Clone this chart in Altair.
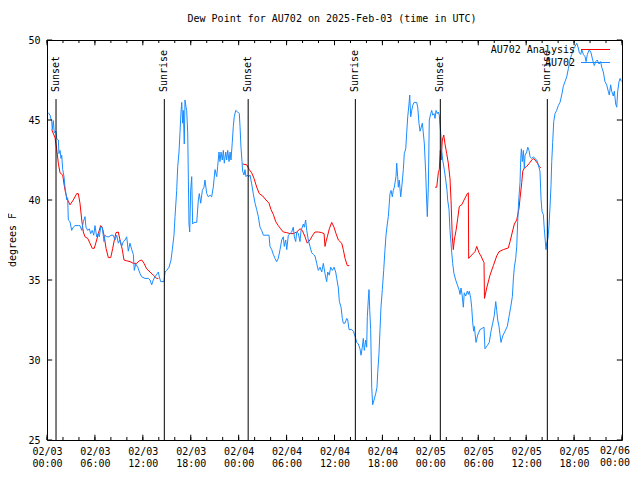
import altair as alt
import pandas as pd

FONT = "DejaVu Sans Mono"
BLUE = "#1a8cff"
RED = "#ff0000"

# hours since 2025-02-03 00:00 UTC, dew point (deg F)
blue_h = [0.16, 0.38, 0.59, 0.66, 0.79, 0.91, 1.13, 1.21, 1.42, 1.50, 1.63, 1.75, 1.84, 1.97, 2.13, 2.25, 2.38, 2.47, 2.59, 2.67,
          2.88, 3.09, 3.29, 3.51, 3.92, 4.13, 4.35, 4.55, 4.76, 4.88, 5.10, 5.30, 5.47, 5.67, 5.85, 6.01, 6.22, 6.42, 6.55, 6.72,
          6.92, 7.14, 7.26, 7.48, 7.76, 8.01, 8.30, 8.51, 8.73, 8.93, 9.14, 9.35, 9.55, 9.77, 9.98, 10.18, 10.39, 10.61, 10.81, 10.93,
          11.11, 11.36, 11.65, 11.86, 12.27, 12.68, 12.90, 13.11, 13.31, 13.52, 13.81, 13.94, 14.06, 14.24, 14.65, 14.78, 14.99, 15.28, 15.53, 15.69,
          15.90, 16.03, 16.24, 16.37, 16.53, 16.65, 16.78, 16.87, 16.99, 17.07, 17.19, 17.28, 17.41, 17.49, 17.62, 17.78, 17.87, 17.99, 18.12, 18.24,
          18.41, 18.75, 18.95, 19.07, 19.25, 19.45, 19.66, 19.78, 20.00, 20.20, 20.41, 20.62, 20.82, 21.04, 21.25, 21.37, 21.54, 21.66, 21.79, 21.95,
          22.08, 22.20, 22.38, 22.50, 22.63, 22.79, 22.92, 23.04, 23.20, 23.33, 23.45, 23.63, 23.88, 24.08, 24.17, 24.29, 24.42, 24.50, 24.67, 24.79,
          24.92, 25.08, 25.26, 25.42, 25.63, 25.83, 26.05, 26.26, 26.46, 26.67, 26.88, 27.09, 27.80, 27.92, 28.14, 28.34, 28.55, 28.76, 28.96, 29.18,
          29.39, 29.59, 29.71, 29.89, 30.02, 30.22, 30.43, 30.64, 30.84, 30.97, 31.14, 31.27, 31.47, 31.68, 31.81, 31.97, 32.10, 32.22, 32.39, 32.52,
          32.72, 32.93, 33.15, 33.35, 33.56, 33.77, 33.97, 34.19, 34.40, 34.60, 34.81, 35.02, 35.15, 35.35, 35.52, 35.73, 35.94, 36.15, 36.28, 36.48,
          36.61, 36.82, 36.98, 37.10, 37.32, 37.53, 37.66, 37.82, 38.16, 38.35, 38.57, 38.78, 38.98, 39.19, 39.32, 39.48, 39.61, 39.73, 39.91, 40.03,
          40.11, 40.23, 40.32, 40.41, 40.53, 40.66, 40.78, 40.95, 41.16, 41.32, 41.41, 41.57, 41.70, 41.82, 41.99, 42.16, 42.32, 42.45, 42.61, 42.74,
          42.86, 42.95, 43.08, 43.24, 43.36, 43.49, 43.70, 43.79, 43.91, 43.99, 44.11, 44.29, 44.42, 44.62, 44.74, 44.92, 45.04, 45.17, 45.33, 45.42,
          45.54, 45.67, 45.79, 45.96, 46.29, 46.42, 46.58, 46.71, 46.83, 47.00, 47.12, 47.25, 47.42, 47.55, 47.62, 47.75, 47.87, 48.05, 48.17, 48.30,
          48.46, 48.59, 48.71, 48.87, 49.00, 49.12, 49.21, 49.34, 49.42, 49.55, 49.75, 49.93, 50.09, 50.17, 50.34, 50.46, 50.59, 50.68, 50.80, 50.96,
          51.18, 51.38, 51.59, 51.72, 51.84, 52.00, 52.13, 52.25, 52.43, 52.63, 52.76, 52.88, 53.06, 53.18, 53.31, 53.43, 53.51, 53.72, 53.93, 54.22,
          54.56, 54.72, 54.84, 55.13, 55.38, 55.60, 55.81, 56.01, 56.19, 56.31, 56.44, 56.60, 56.72, 56.85, 57.06, 57.35, 57.64, 57.85, 58.06, 58.27,
          58.39, 58.52, 58.69, 58.82, 58.94, 59.07, 59.23, 59.32, 59.40, 59.52, 59.65, 59.77, 59.86, 60.07, 60.20, 60.36, 60.48, 60.70, 60.90, 61.11,
          61.32, 61.52, 61.73, 61.86, 61.98, 62.15, 62.27, 62.40, 62.48, 62.57, 62.73, 62.86, 62.98, 63.11, 63.20, 63.32, 63.45, 63.61, 63.82, 64.02,
          64.24, 64.45, 64.65, 64.86, 65.08, 65.28, 65.49, 65.70, 65.90, 66.12, 66.33, 66.53, 66.66, 66.83, 66.96, 67.16, 67.37, 67.50, 67.66, 67.91,
          68.12, 68.33, 68.53, 68.71, 68.91, 69.12, 69.33, 69.46, 69.66, 69.87, 70.08, 70.28, 70.41, 70.58, 70.71, 70.91, 71.04, 71.21, 71.34, 71.46,
          71.63, 71.76, 71.92]
blue_v = [45.46, 45.3, 44.9, 44.4, 44.96, 44.2, 44.3, 43.85, 43.75, 42.9, 43.1, 42.6, 42.8, 41.9, 41.46, 40.8, 40.4, 40.0, 40.1, 38.75,
          38.65, 38.1, 38.3, 38.4, 38.4, 38.4, 38.1, 38.65, 38.96, 38.3, 38.1, 38.2, 37.9, 38.1, 37.8, 38.4, 37.7, 37.9, 37.7, 38.3,
          38.3, 37.4, 37.8, 37.7, 37.7, 37.8, 37.8, 37.5, 37.8, 37.3, 37.5, 37.1, 37.4, 37.5, 37.7, 36.8, 37.3, 36.9, 36.6, 35.6,
          36.0, 35.8, 35.4, 35.2, 35.1, 35.1, 35.0, 34.7, 35.0, 35.2, 35.4, 35.5, 35.2, 34.9, 34.9, 35.5, 35.6, 35.8, 36.25, 36.9,
          37.8, 38.96, 40.6, 42.1, 43.0, 44.2, 45.5, 46.1, 44.8, 45.6, 43.5, 46.25, 45.8, 45.6, 44.2, 38.5, 38.0, 40.6, 41.46, 38.5,
          38.6, 38.6, 40.0, 40.4, 39.8, 40.6, 40.8, 41.25, 40.4, 40.2, 40.3, 40.2, 40.8, 41.9, 41.46, 42.1, 43.0, 42.4, 43.0, 42.5,
          43.1, 42.3, 43.0, 42.5, 43.1, 42.4, 43.0, 42.5, 43.6, 44.6, 45.2, 45.6, 45.5, 45.4, 44.6, 43.3, 42.4, 41.8, 41.56, 41.9,
          41.46, 41.56, 41.46, 41.56, 41.0, 40.4, 39.8, 39.4, 38.96, 38.3, 38.1, 37.8, 37.8, 37.1, 36.9, 36.6, 36.35, 36.15, 36.35, 36.9,
          37.5, 37.7, 37.1, 37.5, 36.9, 37.8, 37.9, 38.0, 38.3, 37.7, 37.4, 38.0, 37.9, 37.4, 38.1, 38.3, 38.5, 38.3, 38.75, 38.1,
          37.5, 37.1, 36.7, 36.6, 36.5, 36.04, 35.6, 35.8, 35.5, 36.04, 35.4, 34.9, 35.5, 35.3, 35.8, 35.6, 35.8, 35.5, 35.1, 34.5,
          33.65, 33.3, 32.6, 32.3, 32.3, 32.6, 32.5, 31.9, 31.9, 31.8, 31.5, 31.1, 31.0, 30.7, 30.3, 30.8, 31.35, 30.6, 31.25, 30.8,
          32.7, 33.75, 34.4, 33.1, 31.9, 28.3, 27.2, 27.5, 27.9, 28.3, 29.2, 30.4, 31.9, 33.3, 34.4, 35.6, 36.9, 37.8, 38.5, 38.96,
          39.8, 40.4, 40.6, 40.2, 40.6, 40.8, 41.46, 42.3, 41.46, 40.8, 41.25, 40.2, 40.8, 41.9, 42.9, 43.2, 44.2, 45.2, 46.0, 46.56,
          45.2, 45.6, 45.9, 46.1, 46.1, 45.8, 44.8, 44.3, 44.5, 44.8, 44.2, 43.5, 41.7, 39.8, 38.96, 40.8, 45.0, 45.4, 45.6, 45.3,
          45.4, 45.1, 45.6, 45.4, 45.5, 45.3, 44.7, 43.96, 43.1, 42.5, 41.9, 41.25, 40.6, 40.0, 39.4, 38.1, 37.3, 36.7, 36.04, 35.4,
          35.0, 34.7, 34.4, 34.1, 34.5, 34.0, 33.3, 34.2, 34.0, 34.3, 34.1, 34.3, 33.85, 33.3, 32.3, 31.8, 32.1, 31.1, 31.56, 31.9,
          32.0, 32.05, 30.7, 30.9, 31.1, 31.8, 32.3, 32.8, 33.65, 33.1, 32.5, 32.1, 31.6, 31.1, 31.5, 31.8, 32.1, 32.7, 33.3, 33.96,
          35.0, 35.8, 36.35, 37.1, 38.65, 40.0, 41.1, 42.6, 43.2, 42.4, 43.1, 42.0, 42.8, 43.0, 43.3, 43.1, 42.7, 42.6, 42.7, 42.6,
          42.5, 42.2, 41.8, 40.1, 39.3, 39.1, 38.2, 37.4, 36.9, 37.3, 37.6, 38.4, 39.5, 40.9, 42.4, 43.6, 44.9, 45.4, 45.6, 45.9,
          46.1, 46.56, 47.1, 47.4, 47.7, 48.2, 48.75, 49.1, 49.4, 49.6, 49.8, 49.5, 49.2, 49.1, 49.4, 49.1, 48.96, 48.65, 49.1, 49.4,
          49.2, 48.75, 48.4, 48.65, 48.75, 48.5, 48.65, 48.3, 48.0, 47.4, 47.2, 46.8, 46.56, 47.2, 46.8, 46.5, 46.8, 46.0, 45.8, 46.8,
          47.4, 47.6, 47.4]

red1_h = [0.59, 1.00, 1.21, 1.42, 1.63, 1.97, 2.13, 2.34, 2.59, 2.88, 3.29, 3.72, 3.92, 4.13, 4.35, 4.55, 4.76, 5.10, 5.38, 5.67,
          5.92, 6.22, 6.42, 6.72, 6.92, 7.18, 7.39, 7.68, 7.98, 8.23, 8.43, 8.64, 8.93, 9.14, 9.43, 9.64, 9.98, 10.39, 10.81, 11.23,
          11.56, 11.86, 12.15, 12.48, 12.90, 13.31, 13.74, 13.94]
red1_v = [44.4, 43.9, 43.2, 42.3, 41.7, 41.56, 41.0, 40.4, 40.0, 39.7, 40.0, 40.4, 40.4, 39.8, 38.75, 38.0, 37.7, 37.6, 37.3, 36.98,
          36.98, 37.5, 37.9, 38.4, 38.3, 37.7, 36.98, 36.4, 36.4, 36.98, 37.5, 37.96, 38.0, 37.5, 36.9, 36.25, 36.2, 36.15, 36.04, 36.04,
          36.2, 36.25, 36.04, 35.7, 35.5, 35.3, 35.1, 35.1]
red2_h = [24.50, 25.01, 25.33, 25.63, 25.92, 26.26, 26.58, 27.01, 27.42, 27.80, 28.05, 28.34, 28.64, 28.96, 29.26, 29.59, 30.02, 30.43, 30.84, 31.27,
          31.68, 31.97, 32.31, 32.59, 32.93, 33.27, 33.56, 33.97, 34.40, 34.69, 34.81, 34.94, 35.10, 35.35, 35.65, 35.94, 36.19, 36.48, 36.90, 37.10,
          37.32, 37.60, 37.85]
red2_v = [42.25, 42.2, 41.9, 41.7, 41.35, 40.8, 40.4, 40.25, 40.0, 39.8, 39.4, 39.1, 38.65, 38.4, 38.2, 38.0, 37.96, 37.9, 37.9, 38.0,
          38.2, 38.1, 37.7, 37.3, 37.5, 37.8, 38.0, 38.0, 37.96, 37.9, 37.1, 37.4, 37.7, 38.2, 38.6, 38.3, 37.9, 37.5, 37.3, 36.9,
          36.35, 35.9, 35.9]
red3_h = [48.59, 48.80, 49.00, 49.12, 49.25, 49.34, 49.50, 49.68, 49.84, 50.05, 50.25, 50.46, 50.59, 50.75, 50.88, 51.00, 51.22, 51.43, 51.63, 51.93,
          52.22, 52.43, 52.63, 52.76, 52.80, 53.18, 53.59, 53.81, 54.10, 54.35, 54.56, 54.72, 54.78, 55.06, 55.47, 55.89, 56.31, 56.60, 57.14, 57.76,
          57.98, 58.27, 58.52, 58.82, 59.11, 59.23, 59.45, 59.57, 59.77, 60.07, 60.40, 60.70, 60.90, 61.11, 61.41, 61.65, 61.83]
red3_v = [40.8, 40.8, 41.7, 41.9, 43.1, 42.5, 43.75, 44.06, 43.5, 42.9, 42.3, 41.35, 40.0, 37.7, 36.9, 37.5, 38.1, 38.85, 39.6, 39.7,
          40.0, 40.2, 40.4, 40.45, 36.35, 36.56, 36.77, 37.1, 36.7, 36.5, 36.25, 36.1, 33.85, 34.5, 35.3, 35.9, 36.5, 36.77, 36.9, 37.0,
          37.4, 38.0, 38.5, 38.75, 39.5, 40.1, 41.1, 41.8, 42.0, 42.1, 42.3, 42.5, 42.6, 42.5, 42.3, 42.1, 42.0]

sun_h = [1.13, 14.69, 25.19, 38.61, 49.25, 62.65]
sun_label = ["Sunset", "Sunrise", "Sunset", "Sunrise", "Sunset", "Sunrise"]

x_ticks = list(range(0, 73, 6))
x_minor = list(range(0, 73, 2))
y_ticks = [25, 30, 35, 40, 45, 50]
last_label = "02/06\n00:00"

title_text = "Dew Point for AU702 on 2025-Feb-03 (time in UTC)"
legend_labels = ["AU702 Analysis", "AU702"]

xs = alt.Scale(domain=[0, 72], nice=False, zero=False)
ys = alt.Scale(domain=[25, 50], nice=False, zero=False)

blue_df = pd.DataFrame({"h": blue_h, "v": blue_v})
red_df = pd.concat([
    pd.DataFrame({"h": red1_h, "v": red1_v, "seg": 1}),
    pd.DataFrame({"h": red2_h, "v": red2_v, "seg": 2}),
    pd.DataFrame({"h": red3_h, "v": red3_v, "seg": 3}),
])
sun_df = pd.DataFrame({"h": sun_h, "label": sun_label})

label_expr = ("['02/0' + (3 + floor(datum.value / 24)), "
              "((datum.value % 24) < 10 ? '0' : '') + (datum.value % 24) + ':00']")

X_AXIS = alt.Axis(values=x_ticks[:-1], labelExpr=label_expr, ticks=False, domain=False, grid=False,
                  labelFont=FONT, labelFontSize=10, labelColor="black", labelPadding=6,
                  labelLineHeight=12, labelFlush=False, labelOverlap=False, labelBaseline="top",
                  title=None)
Y_AXIS = alt.Axis(values=y_ticks, ticks=False, domain=False, grid=False, labelFont=FONT,
                  labelFontSize=10, labelColor="black", labelPadding=7, title=None)


def X(field=None, datum=None):
    if datum is not None:
        return alt.X(datum=datum, scale=xs, axis=X_AXIS)
    return alt.X(field, type="quantitative", scale=xs, axis=X_AXIS)


def Y(field=None, datum=None):
    if datum is not None:
        return alt.Y(datum=datum, scale=ys, axis=Y_AXIS)
    return alt.Y(field, type="quantitative", scale=ys, axis=Y_AXIS)


red = alt.Chart(red_df).mark_line(color=RED, strokeWidth=1).encode(
    x=X("h"), y=Y("v"), detail="seg:N")
blue = alt.Chart(blue_df).mark_line(color=BLUE, strokeWidth=1).encode(
    x=X("h"), y=Y("v"))

sun_lines = alt.Chart(sun_df).mark_rule(color="black", strokeWidth=1).encode(
    x=X("h"), y=Y(datum=46.31), y2=alt.Y2(datum=25))
sun_text = alt.Chart(sun_df).mark_text(angle=270, align="left", baseline="middle", font=FONT,
                                       fontSize=10, color="black").encode(
    x=X("h"), y=Y(datum=46.75), text="label:N")

# last x label, kept inside the page
end_label = alt.Chart(pd.DataFrame({"h": [x_ticks[-1]], "t": [last_label]})).mark_text(
    font=FONT, fontSize=10, color="black", align="right", baseline="top", lineBreak="\n",
    lineHeight=12, dx=8).encode(
    x=X("h"), y=alt.value(406), text="t:N")

# inward ticks
xt_major = pd.DataFrame({"h": x_ticks})
xt_minor = pd.DataFrame({"h": x_minor})
yt = pd.DataFrame({"v": y_ticks})


def xtick(df, y0, y1):
    return alt.Chart(df).mark_rule(color="black", strokeWidth=1).encode(
        x=X("h"), y=Y(datum=y0), y2=alt.Y2(datum=y1))


def ytick(x0, x1):
    return alt.Chart(yt).mark_rule(color="black", strokeWidth=1).encode(
        y=Y("v"), x=X(datum=x0), x2=alt.X2(datum=x1))


ticks = [
    xtick(xt_major, 25, 25.33), xtick(xt_major, 50, 49.67),
    xtick(xt_minor, 25, 25.19), xtick(xt_minor, 50, 49.81),
    ytick(0, 0.65), ytick(72, 71.35),
]

title = alt.Chart(pd.DataFrame({"t": [title_text]})).mark_text(
    font=FONT, fontSize=10, color="black", align="center", baseline="middle").encode(
    x=alt.value(285), y=alt.value(-21), text="t:N")

ylab = alt.Chart(pd.DataFrame({"t": ["degrees F"]})).mark_text(
    font=FONT, fontSize=10, color="black", angle=270, align="center", baseline="middle").encode(
    x=alt.value(-34), y=alt.value(200), text="t:N")

leg_t1 = alt.Chart(pd.DataFrame({"t": [legend_labels[0]]})).mark_text(
    font=FONT, fontSize=10, color="black", align="right", baseline="middle").encode(
    x=alt.value(528), y=alt.value(10), text="t:N")
leg_t2 = alt.Chart(pd.DataFrame({"t": [legend_labels[1]]})).mark_text(
    font=FONT, fontSize=10, color="black", align="right", baseline="middle").encode(
    x=alt.value(528), y=alt.value(22.5), text="t:N")
leg_l1 = alt.Chart(pd.DataFrame({"t": [0]})).mark_rule(color=RED, strokeWidth=1).encode(
    x=alt.value(534), x2=alt.value(563), y=alt.value(9.5))
leg_l2 = alt.Chart(pd.DataFrame({"t": [0]})).mark_rule(color=BLUE, strokeWidth=1).encode(
    x=alt.value(534), x2=alt.value(563), y=alt.value(22.5))

chart = alt.layer(
    red, blue, sun_lines, sun_text, end_label, *ticks, title, ylab, leg_t1, leg_t2, leg_l1, leg_l2
).properties(
    width=575, height=400,
    autosize=alt.AutoSizeParams(type="none"),
    padding={"left": 39, "top": 32, "right": 9, "bottom": 30},
    background="white",
).configure_view(stroke="black", strokeWidth=1)

chart.save("out.html", embed_options={"renderer": "svg", "actions": False})
